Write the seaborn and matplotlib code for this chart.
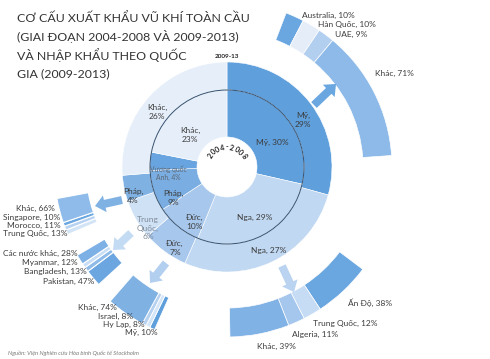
import numpy as np
import matplotlib
matplotlib.use("Agg")
import matplotlib.pyplot as plt
from matplotlib.patches import FancyArrow, Circle
import seaborn as sns

# thị phần xuất khẩu vũ khí (%)
outer_labels = ["Mỹ", "Nga", "Đức", "Trung Quốc", "Pháp", "Khác"]      # 2009-13
outer_vals = [29, 27, 7, 6, 4, 26]
inner_labels = ["Mỹ", "Nga", "Đức", "Pháp", "Vương quốc Anh", "Khác"]  # 2004-2008
inner_vals = [30, 29, 10, 9, 4, 23]

# khách hàng của từng nước xuất khẩu (%), theo chiều kim đồng hồ
us_buyers = ["Australia", "Hàn Quốc", "UAE", "Khác"]
us_vals = [10, 10, 9, 71]
ru_buyers = ["Ấn Độ", "Trung Quốc", "Algeria", "Khác"]
ru_vals = [38, 12, 11, 39]
fr_buyers = ["Trung Quốc", "Morocco", "Singapore", "Khác"]
fr_vals = [13, 11, 10, 66]
cn_buyers = ["Pakistan", "Bangladesh", "Myanmar", "Các nước khác"]
cn_vals = [47, 13, 12, 28]
de_buyers = ["Mỹ", "Hy Lạp", "Israel", "Khác"]
de_vals = [10, 8, 8, 74]

W, H = 490, 359
CX, CY = 227, H - 167
TXT = "#3c3c3c"

outer_colors = ["#5f9fdc", "#c0d8f1", "#a7c7ec", "#cfe1f5", "#7fb1e3", "#e6eff9"]
inner_colors = ["#5f9fdc", "#c0d8f1", "#a7c7ec", "#7aaee2", "#68a4df", "#e6eff9"]


def Y(y):
    return H - y


def ring(ax, vals, colors, theta0, span, r_out, width, lw=0.5):
    fr = np.asarray(vals, float) / sum(vals) * span / 360.0
    ax.pie(fr, normalize=False, startangle=90 - theta0, counterclock=False,
           radius=r_out, center=(CX, CY), colors=colors,
           wedgeprops=dict(width=width, edgecolor="white", linewidth=lw))


def label_list(ax, names, vals, xy, ha="left", **kw):
    for name, v, (x, y) in zip(names, vals, xy):
        ax.text(x, Y(y), f"{name}, {v}%", ha=ha, va="center",
                fontsize=6.0, color=TXT, **kw)


sns.set_theme(style="white")
plt.rcParams["font.family"] = ["Lato", "Noto Sans", "DejaVu Sans"]

fig = plt.figure(figsize=(W / 100, H / 100), dpi=100)
ax = fig.add_axes([0, 0, 1, 1])

# vòng chính
ax.pie(np.asarray(outer_vals, float), startangle=90, counterclock=False, radius=105,
       center=(CX, CY), colors=outer_colors,
       wedgeprops=dict(width=28, edgecolor="white", linewidth=0.4))
ax.pie(np.asarray(inner_vals, float), startangle=90, counterclock=False, radius=77,
       center=(CX, CY), colors=inner_colors,
       wedgeprops=dict(width=47, edgecolor="white", linewidth=0.4))
ax.add_patch(Circle((CX, CY), 77, fill=False, ec="#34506f", lw=0.7, zorder=3))

# các vòng khách hàng
ring(ax, us_vals, ["#6aa6e0", "#e4edf8", "#b3cff0", "#8dbae8"], 21, 65, 165, 29)
ring(ax, ru_vals, ["#6aa6e0", "#c6dcf4", "#a6c7ed", "#80b2e5"], 127, 52, 170, 29)
ring(ax, fr_vals, ["#d3e4f6", "#b8d3f1", "#6aa6e0", "#8ebbe9"], 247, 12.5, 173, 32, lw=0.8)
ring(ax, cn_vals, ["#6ba6e0", "#8fbbe9", "#c8def5", "#7db0e4"], 227.5, 12, 174, 32, lw=0.8)
ring(ax, de_vals, ["#5f9fdc", "#d4e5f7", "#b6d1f0", "#7fb1e3"], 204, 17, 178, 35, lw=0.6)

# mũi tên
arrows = [((314, 105), (336, 84), "#6aa6e0"),
          ((282, 266), (294, 292), "#b9d3f0"),
          ((122, 200), (95, 206), "#7fb1e3"),
          ((131, 233), (113, 250), "#c4dbf4"),
          ((166, 263), (150, 283), "#b3cff0")]
for (x0, y0), (x1, y1), c in arrows:
    ax.add_patch(FancyArrow(x0, Y(y0), x1 - x0, -(y1 - y0), width=8,
                            head_width=17, head_length=10,
                            length_includes_head=True, color=c, lw=0, zorder=4))

# nhãn vòng chính
wedge_txt = [("Mỹ,\n29%", 303, 120, TXT), ("Nga, 27%", 269, 250, TXT),
             ("Đức,\n7%", 175, 248, TXT), ("Trung\nQuốc,\n6%", 148, 228, "#7f8a99"),
             ("Pháp,\n4%", 133, 196, TXT), ("Khác,\n26%", 157, 112, TXT),
             ("Mỹ, 30%", 272, 142, TXT), ("Nga, 29%", 255, 217, TXT),
             ("Đức,\n10%", 195, 222, TXT), ("Pháp,\n9%", 173, 198, TXT),
             ("Khác,\n23%", 190, 135, TXT)]
for s, x, y, c in wedge_txt:
    ax.text(x, Y(y), s, ha="center", va="center", fontsize=6.0, color=c,
            linespacing=1.25, zorder=5)
ax.text(168, Y(173), "Vương quốc\nAnh, 4%", ha="center", va="center", fontsize=4.9,
        color="#5e6773", linespacing=1.15, zorder=5)

ax.text(CX, Y(57), "2009-13", ha="center", va="center", fontsize=4.6,
        fontweight="bold", color="#222222")
# chữ cong 2004-2008
word = "2004-2008"
angs = np.linspace(-56, 56, len(word))
for ch, a in zip(word, angs):
    t = np.radians(a)
    ax.text(CX + 20 * np.sin(t), CY + 20 * np.cos(t), ch, ha="center", va="center",
            rotation=-a, fontsize=5.2, fontweight="bold", color="#222222", zorder=6)

# nhãn khách hàng
label_list(ax, us_buyers[:3], us_vals[:3], [(302, 15), (318, 24), (335, 34)])
label_list(ax, us_buyers[3:], us_vals[3:], [(375, 73)])
label_list(ax, ru_buyers, ru_vals, [(348, 303), (313, 323), (292, 334), (257, 346)])
label_list(ax, fr_buyers[::-1], fr_vals[::-1],
           [(55, 208), (60, 217), (61, 225), (67, 233)], ha="right")
label_list(ax, cn_buyers[::-1], cn_vals[::-1],
           [(78, 253), (78, 262), (87, 271), (94, 281)], ha="right")
label_list(ax, de_buyers[::-1], de_vals[::-1],
           [(117, 307), (133, 316), (145, 324), (158, 332)], ha="right")

title = ["CƠ CẤU XUẤT KHẨU VŨ KHÍ TOÀN CẦU",
         "(GIAI ĐOẠN 2004-2008 VÀ 2009-2013)",
         "VÀ NHẬP KHẨU THEO QUỐC",
         "GIA (2009-2013)"]
for i, line in enumerate(title):
    ax.text(17, Y(18 + 18.7 * i), line, ha="left", va="center", fontsize=8.9,
            color="#333333")

ax.text(8, Y(353), "Nguồn: Viện Nghiên cứu Hòa bình Quốc tế Stockholm", ha="left",
        va="center", fontsize=4.2, style="italic", color="#7a7a7a")

ax.set_xlim(0, W)
ax.set_ylim(0, H)
ax.set_aspect("equal")
ax.axis("off")
fig.savefig("out.png", dpi=100)
